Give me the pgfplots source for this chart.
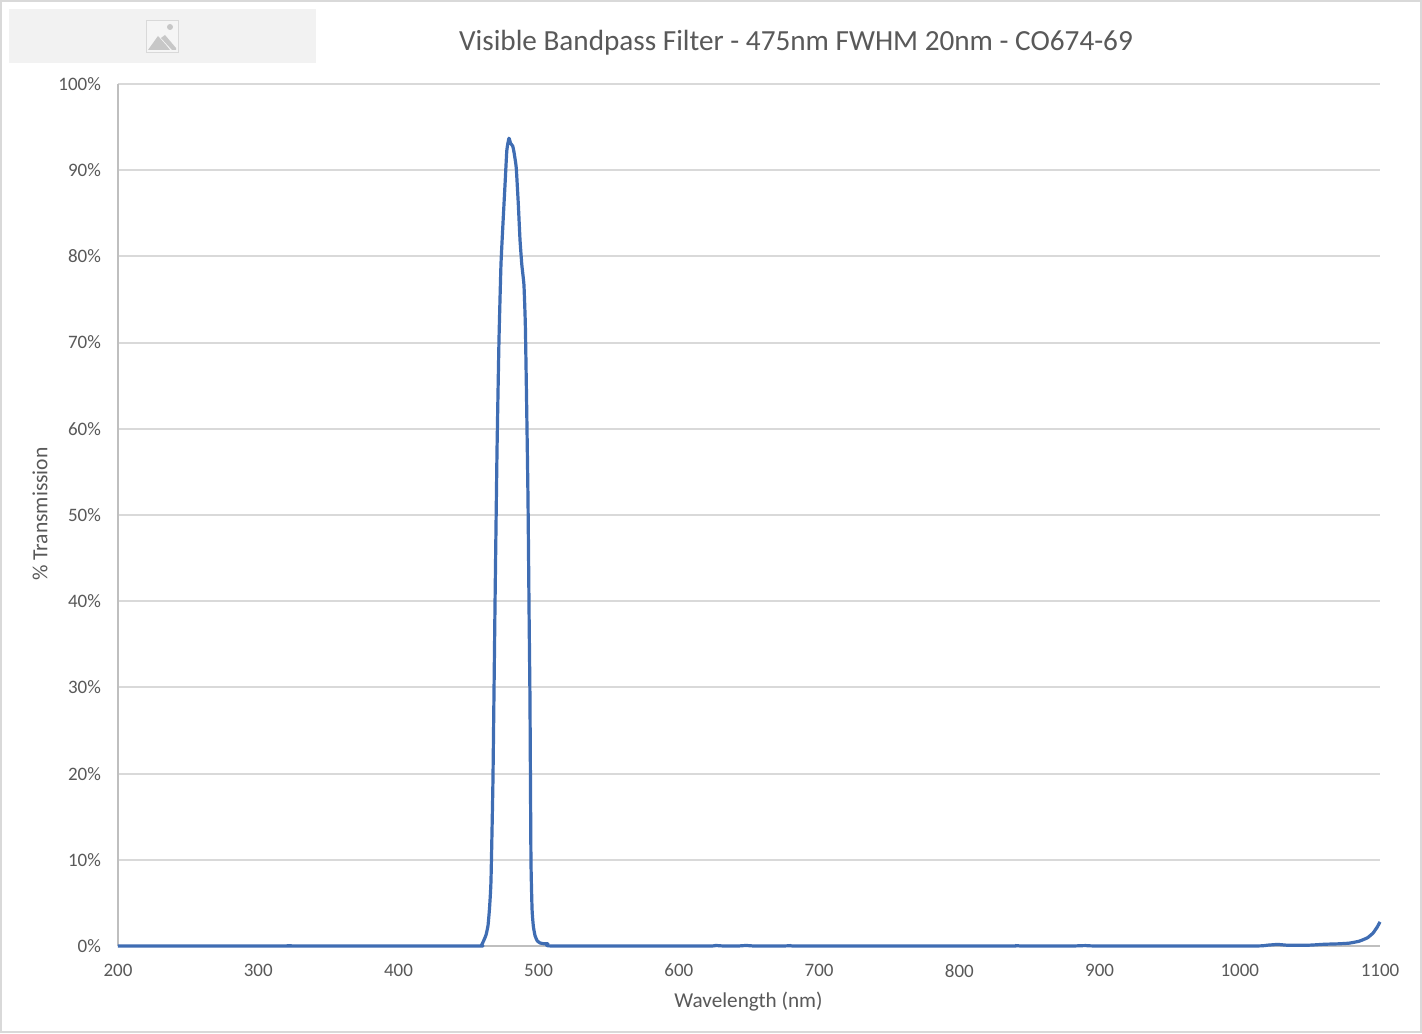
\documentclass[border=0pt]{standalone}
\usepackage{fontspec}
\setmainfont{Carlito}
\usepackage{pgfplots}
\pgfplotsset{compat=1.18}
\definecolor{gridc}{HTML}{D9D9D9}
\definecolor{axisc}{HTML}{BFBFBF}
\definecolor{textc}{HTML}{595959}
\definecolor{linec}{HTML}{3F6DB3}
\definecolor{framec}{HTML}{D9D9D9}
\begin{document}
\begin{tikzpicture}[x=0.5pt,y=0.5pt]
\useasboundingbox (0,0) rectangle (1422,1033);
\fill[white] (0,0) rectangle (1422,1033);
\draw[framec,line width=1pt] (1,1) rectangle (1421,1032);
% placeholder image strip
\fill[black!5] (9,970) rectangle (316,1024);
\fill[white!96!black] (146,981) rectangle (178,1013);
\draw[black!15,line width=0.4pt] (146,981) rectangle (178,1013);
\fill[black!22] (148,983) -- (158,997) -- (166,988) -- (170,983) -- cycle;
\fill[black!22] (165,998) -- (176,985) -- (176,983) -- (172,983) -- (161,995) -- cycle;
\fill[black!22] (170,1006) circle (3);
\begin{axis}[
  at={(59pt,43.5pt)},anchor=south west,
  scale only axis,width=631pt,height=431pt,
  xmin=200,xmax=1100,ymin=0,ymax=100,
  axis lines=left,axis line style={-,draw=axisc,line width=1pt},
  xtick={200,300,...,1100},ytick={0,10,...,100},
  major tick length=0pt,
  ymajorgrids,grid style={draw=gridc,line width=1pt},
  yticklabel={\pgfmathprintnumber[assume math mode=true]{\tick}\%},
  /pgf/number format/1000 sep={},
  /pgf/number format/assume math mode=true,
  tick label style={font=\fontsize{9.5}{11}\selectfont,text=textc},
  xticklabel style={yshift=-5.5pt},
  yticklabel style={xshift=-5pt},
  xlabel={Wavelength (nm)},ylabel={\% Transmission},
  xlabel style={font=\fontsize{10.6}{12}\selectfont,text=textc,at={(axis description cs:0.4996,0)},anchor=center,yshift=-28pt},
  ylabel style={font=\fontsize{10.8}{12}\selectfont,text=textc,at={(axis description cs:-0.0618,0.501)},anchor=center},
  clip=false,
]
\addplot[linec,line width=1.6pt,line join=round,smooth,tension=0.25] coordinates {
(200,0)(320,0)(322,0.03)(325,0)(455,0)(459,0.05)(461,0.7)(462.5,1.3)(463.9,2.4)(465,4.5)(466,7.6)(467.4,19.3)(468.9,40)(470.3,57.5)(471.7,70.3)(473.1,79)(474.6,84)(476,88.3)(477.3,92.3)(478.8,93.7)(480,93.1)(481.5,92.8)(482.5,92)(484,90.3)(485.5,86)(486.7,81.9)(488,79)(489.5,76.7)(490.5,72)(491.5,62)(492.4,51.7)(493.2,38)(493.8,28.5)(494.5,10)(495.3,4.2)(496.2,2.3)(497.4,1.2)(499,0.6)(501,0.35)(504,0.25)(506.6,0.25)(510,0)(620,0)(626,0.06)(632,0)(642,0)(648,0.06)(654,0)(675,0)(680,0.05)(686,0)(835,0)(840,0.05)(845,0)(880,0)(890,0.05)(900,0)(1010,0)(1020,0.1)(1027,0.18)(1035,0.08)(1050,0.1)(1060,0.2)(1070,0.25)(1078,0.33)(1085,0.55)(1091,0.95)(1095,1.5)(1098,2.2)(1100,2.8)
};
\end{axis}
\node[text=textc,font=\fontsize{14.6}{16}\selectfont] at (796,990.5) {Visible Bandpass Filter - 475nm FWHM 20nm - CO674-69};
\end{tikzpicture}
\end{document}
